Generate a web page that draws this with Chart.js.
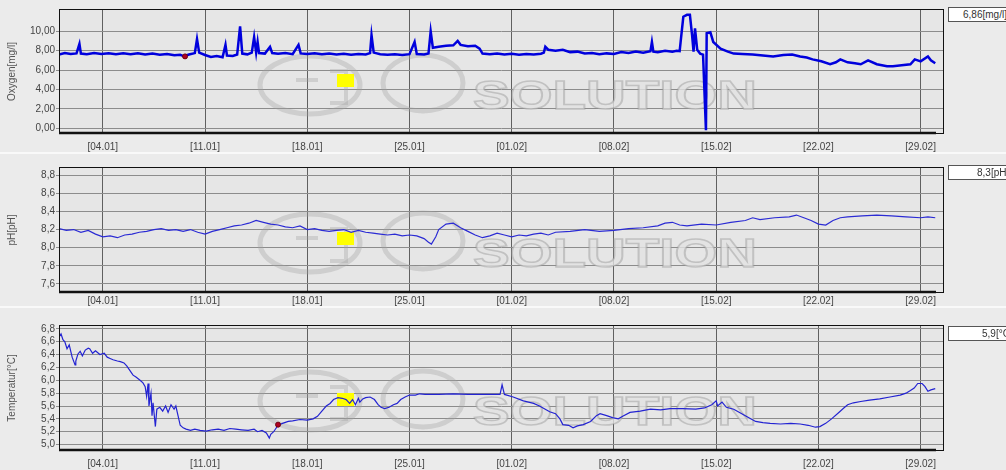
<!DOCTYPE html>
<html><head><meta charset="utf-8">
<script src="https://cdn.jsdelivr.net/npm/chart.js@4"></script>
<style>
body{margin:0;background:#ebebeb;width:1006px;height:470px;overflow:hidden;position:relative;font-family:"Liberation Sans",Arial,sans-serif;}
canvas{position:absolute;left:0}
.sep{position:absolute;left:0;width:1006px;height:2px;background:#f9f9f9}
.box{position:absolute;left:948px;width:80px;height:13px;background:#fff;border:1px solid #555;font-size:10px;color:#333;line-height:13px}
.box span{position:absolute;top:0;white-space:nowrap}
</style></head><body>
<canvas id="c1" width="1006" height="152" style="top:0"></canvas>
<div class="sep" style="top:152px"></div>
<canvas id="c2" width="1006" height="152" style="top:154px"></canvas>
<div class="sep" style="top:306px"></div>
<canvas id="c3" width="1006" height="162" style="top:308px"></canvas>
<div class="box" style="top:7px"><span id="v1" style="left:14px"></span></div>
<div class="box" style="top:165px"><span id="v2" style="left:28px"></span></div>
<div class="box" style="top:326px"><span id="v3" style="left:33px"></span></div>
<script>
// ---- data (days since 01.01) ----
const xTickDays = [3,10,17,24,31,38,45,52,59];
const xTickLabels = ['[04.01]','[11.01]','[18.01]','[25.01]','[01.02]','[08.02]','[15.02]','[22.02]','[29.02]'];

const oxyTicks = [0,2,4,6,8,10];
const phTicks = [7.6,7.8,8.0,8.2,8.4,8.6,8.8];
const tempTicks = [5.0,5.2,5.4,5.6,5.8,6.0,6.2,6.4,6.6,6.8];

const oxyDays = [0,0.4,0.8,1.2,1.4,1.5,1.9,2.4,2.9,3.4,3.9,4.4,4.9,5.4,5.9,6.4,6.9,7.4,7.9,8.3,8.56,8.9,9.3,9.45,9.6,10.0,10.4,10.8,11.2,11.4,11.5,11.9,12.2,12.4,12.55,12.9,13.2,13.36,13.5,13.6,13.7,14.1,14.45,14.6,15.0,15.5,16.0,16.4,16.55,17.0,17.5,18.0,18.5,19.0,19.5,20.0,20.5,21.0,21.3,21.4,21.55,22.0,22.5,23.0,23.5,24.0,24.35,24.5,25.0,25.3,25.45,25.6,26.0,26.5,27.0,27.3,27.5,28.0,28.5,28.8,29.0,29.5,30.0,30.5,31.0,31.5,32.0,32.5,33.0,33.2,33.3,33.5,34.0,34.5,35.0,35.5,36.0,36.5,37.0,37.5,38.0,38.5,39.0,39.5,40.0,40.5,40.6,40.7,41.0,41.5,42.0,42.3,42.5,42.6,42.75,43.0,43.2,43.35,43.45,43.55,43.7,43.9,44.1,44.3,44.35,44.6,44.8,45.3,45.8,46.2,46.8,47.5,48.2,48.9,49.6,50.2,50.75,51.2,51.6,52.2,52.8,53.2,53.5,54.0,54.5,54.9,55.4,56.0,56.7,57.1,57.7,58.3,58.6,59.0,59.5,59.7,60.0];
const oxyValues = [7.6,7.75,7.65,7.72,8.7,7.7,7.62,7.75,7.66,7.74,7.62,7.72,7.64,7.73,7.6,7.7,7.58,7.66,7.52,7.58,7.42,7.6,7.75,9.2,7.8,7.55,7.35,7.45,7.32,8.6,7.5,7.45,7.6,10.5,7.7,7.62,7.8,9.4,7.8,8.9,7.75,7.7,8.4,7.75,7.68,7.76,7.64,8.6,7.72,7.66,7.74,7.62,7.7,7.6,7.68,7.58,7.66,7.6,7.75,9.6,7.8,7.64,7.58,7.62,7.55,7.64,8.9,7.66,7.6,7.7,10.0,8.3,8.4,8.5,8.55,9.0,8.6,8.45,8.5,8.2,7.7,7.62,7.7,7.6,7.68,7.58,7.66,7.6,7.68,7.8,8.4,8.1,8.0,8.1,7.85,7.9,7.7,7.76,7.64,7.72,7.66,7.85,7.75,7.9,7.78,7.95,8.9,7.9,7.85,8.0,7.9,8.0,7.95,9.4,11.5,11.7,11.7,9.6,7.9,10.3,8.1,7.7,7.6,-0.2,9.8,9.9,8.9,8.2,7.9,7.7,7.65,7.6,7.5,7.4,7.55,7.6,7.4,7.3,7.1,6.9,6.6,6.8,7.1,6.8,6.7,6.6,7.0,6.6,6.4,6.4,6.5,6.6,7.1,6.9,7.4,7.0,6.7];

const phDays = [0,0.5,1,1.5,2,2.5,3,3.5,4,4.5,5,5.5,6,6.5,7,7.5,8,8.5,9,9.5,10,10.5,11,11.5,12,12.5,13,13.5,14,14.5,15,15.5,16,16.5,17,17.5,18,18.5,19,19.5,20,20.5,21,21.5,22,22.5,23,23.5,24,24.5,25,25.3,25.5,25.8,26,26.5,27,27.5,28,28.5,29,29.5,30,30.5,31,31.5,32,32.5,33,33.5,34,35,36,37,38,39,40,41,41.5,42,42.5,43,44,45,46,47,47.5,48,49,50,50.5,51,51.5,52,52.5,53,53.5,54,55,56,57,58,59,59.5,60];
const phValues = [8.21,8.19,8.2,8.17,8.19,8.15,8.12,8.13,8.11,8.14,8.15,8.17,8.18,8.2,8.21,8.19,8.2,8.18,8.2,8.17,8.15,8.18,8.2,8.22,8.24,8.25,8.27,8.3,8.28,8.26,8.25,8.23,8.22,8.24,8.2,8.21,8.19,8.18,8.19,8.2,8.17,8.19,8.17,8.16,8.15,8.14,8.15,8.13,8.14,8.13,8.1,8.06,8.04,8.12,8.2,8.26,8.27,8.22,8.18,8.14,8.11,8.13,8.16,8.14,8.12,8.14,8.13,8.15,8.16,8.14,8.17,8.18,8.2,8.18,8.19,8.21,8.22,8.24,8.27,8.28,8.25,8.24,8.26,8.25,8.28,8.3,8.33,8.31,8.33,8.34,8.36,8.33,8.3,8.26,8.25,8.3,8.33,8.34,8.35,8.36,8.35,8.34,8.33,8.34,8.33];

const tempDays = [0,0.14,0.27,0.4,0.55,0.7,0.9,1.1,1.15,1.3,1.45,1.6,1.8,2.0,2.1,2.3,2.5,2.8,3.1,3.3,3.5,3.7,4.0,4.2,4.45,4.65,4.86,5.07,5.27,5.55,5.75,5.9,6.0,6.1,6.16,6.3,6.37,6.44,6.6,6.7,6.9,7.1,7.3,7.47,7.67,7.88,8.0,8.15,8.3,8.5,8.7,9.0,9.3,9.66,10.07,10.5,10.9,11.3,11.7,12.1,12.5,12.95,13.36,13.6,13.9,14.2,14.4,14.5,14.7,15.0,15.3,15.7,16.0,16.5,17.0,17.4,17.7,18.0,18.3,18.56,18.8,19.1,19.4,19.66,19.9,20.1,20.3,20.5,20.6,20.8,21.0,21.3,21.6,21.85,22.05,22.3,22.6,22.9,23.15,23.4,23.7,24.0,24.4,24.7,25.07,26,27,28,29,30.2,30.34,30.5,31.1,31.8,32.5,32.9,33.6,34.0,34.3,34.5,34.9,35.2,35.5,35.9,36.4,36.8,37.05,37.5,37.9,38.3,38.6,39.1,39.8,40.5,41.2,41.85,42.7,43.6,44.2,44.7,45.0,45.1,45.4,45.7,46.2,46.6,47.3,47.7,48.2,48.7,49.4,50.1,50.75,51.3,51.8,52.1,52.5,52.9,53.4,53.7,54.0,54.4,54.9,55.5,56.2,56.9,57.6,58.0,58.3,58.56,58.8,59.1,59.3,59.5,59.7,60.0];
const tempValues = [6.67,6.72,6.63,6.6,6.49,6.55,6.36,6.24,6.3,6.41,6.45,6.38,6.47,6.5,6.49,6.42,6.46,6.4,6.42,6.36,6.34,6.32,6.3,6.29,6.27,6.22,6.15,6.08,6.05,6.0,5.96,5.9,5.75,5.95,5.6,5.8,5.45,5.65,5.28,5.55,5.58,5.52,5.6,5.5,5.62,5.55,5.6,5.45,5.3,5.26,5.24,5.22,5.24,5.22,5.21,5.23,5.24,5.22,5.25,5.24,5.23,5.22,5.24,5.2,5.22,5.18,5.1,5.16,5.2,5.3,5.33,5.36,5.37,5.39,5.38,5.4,5.44,5.52,5.6,5.64,5.7,5.73,5.72,5.7,5.64,5.7,5.62,5.72,5.66,5.71,5.73,5.74,5.7,5.62,5.58,5.56,5.58,5.62,5.64,5.7,5.74,5.77,5.77,5.79,5.78,5.78,5.79,5.78,5.78,5.78,5.93,5.78,5.74,5.68,5.64,5.6,5.51,5.48,5.4,5.31,5.3,5.26,5.29,5.31,5.36,5.45,5.48,5.45,5.42,5.4,5.44,5.5,5.52,5.55,5.54,5.56,5.56,5.55,5.57,5.62,5.68,5.6,5.66,5.58,5.55,5.5,5.41,5.36,5.34,5.33,5.32,5.33,5.32,5.3,5.27,5.28,5.33,5.4,5.5,5.56,5.62,5.65,5.67,5.69,5.71,5.74,5.77,5.8,5.84,5.88,5.95,5.95,5.9,5.83,5.85,5.87];

const yellowMarks = {oxy:[19.6, 4.9], ph:[19.6, 8.1], temp:[19.6, 5.7]};
const redMarks = {oxy:[8.63, 7.41], temp:[15.0, 5.31]};
const currentValues = ['6,86[mg/l]','8,3[pH]','5,9[°C]'];

document.getElementById('v1').textContent = currentValues[0];
document.getElementById('v2').textContent = currentValues[1];
document.getElementById('v3').textContent = currentValues[2];

// ---- styling helpers ----
const FONT = '"Liberation Sans", Arial, sans-serif';
const yellowImg = document.createElement('canvas');
yellowImg.width = 17; yellowImg.height = 13;
(function(){const c=yellowImg.getContext('2d');c.fillStyle='#ffff00';c.fillRect(0,0,17,13);})();

const panelPlugin = {
  id:'panel',
  beforeDraw(chart){
    const {ctx, chartArea:a} = chart;
    ctx.save(); ctx.fillStyle='#e6e6e6'; ctx.fillRect(a.left,a.top,a.right-a.left,a.bottom-a.top); ctx.restore();
  },
  beforeDatasetsDraw(chart){
    const {ctx, chartArea:a} = chart;
    const t = a.top;
    ctx.save();
    ctx.strokeStyle='rgba(160,160,160,0.35)'; ctx.lineWidth=5;
    ctx.beginPath(); ctx.ellipse(310, t+76, 50, 29, 0, 0, Math.PI*2); ctx.stroke();
    ctx.beginPath(); ctx.ellipse(423, t+74, 40, 28, 0, 0, Math.PI*2); ctx.stroke();
    ctx.lineWidth=4; ctx.strokeStyle='rgba(160,160,160,0.35)';
    ctx.beginPath(); ctx.moveTo(296,t+71); ctx.lineTo(318,t+71); ctx.stroke();
    ctx.beginPath(); ctx.moveTo(330,t+62); ctx.lineTo(346,t+62); ctx.lineTo(346,t+94); ctx.lineTo(330,t+94); ctx.stroke();
    ctx.font = 'bold 41px ' + FONT;
    const w = ctx.measureText('SOLUTION').width;
    ctx.translate(473, t+100); ctx.scale(284/w, 1);
    ctx.fillStyle='rgba(226,226,226,0.8)'; ctx.fillText('SOLUTION',0,0);
    ctx.lineWidth=1.5; ctx.strokeStyle='rgba(150,150,150,0.45)'; ctx.strokeText('SOLUTION',0,0);
    ctx.restore();
  },
  afterDraw(chart){
    const {ctx, chartArea:a} = chart;
    ctx.save();
    ctx.strokeStyle='#111'; ctx.lineWidth=1;
    ctx.strokeRect(a.left+0.5,a.top+0.5,a.right-a.left-1,a.bottom-a.top-1);
    ctx.lineWidth=2.5; ctx.beginPath(); ctx.moveTo(a.left,a.bottom-1); ctx.lineTo(a.right-8,a.bottom-1); ctx.stroke();
    ctx.restore();
  }
};

function makeChart(id, cfg){
  const ds = [{
    data: cfg.days.map((d,i)=>({x:d,y:cfg.vals[i]})),
    borderColor: cfg.color, borderWidth: cfg.lw, pointRadius:0, tension:0, order:2
  },{
    data:[{x:cfg.yellow[0], y:cfg.yellow[1]}], pointStyle: yellowImg, pointRadius:8, showLine:false, order:3
  }];
  if (cfg.red) ds.push({data:[{x:cfg.red[0], y:cfg.red[1]}], pointRadius:2.5, pointBackgroundColor:'#b00020', pointBorderColor:'#700010', showLine:false, order:1});
  return new Chart(document.getElementById(id), {
    type:'line',
    data:{datasets:ds},
    options:{
      responsive:false, animation:false, devicePixelRatio:1,
      layout:{padding:{left:0,right:62,top:cfg.pt,bottom:0}},
      plugins:{legend:{display:false}, tooltip:{enabled:false}},
      scales:{
        x:{type:'linear', min:0, max:60.6,
          afterBuildTicks: a => { a.ticks = xTickDays.map(v=>({value:v})); },
          afterFit: s => { s.height = cfg.xh; },
          grid:{color:'#606060', drawTicks:false}, border:{display:false},
          ticks:{padding:cfg.xpad, autoSkip:false, maxRotation:0, font:{family:FONT,size:10}, color:'#444',
            callback: v => { const i = xTickDays.indexOf(v); return i>=0 ? xTickLabels[i] : ''; }}
        },
        y:{min:cfg.min, max:cfg.max,
          afterBuildTicks: a => { a.ticks = cfg.ticks.map(v=>({value:v})); },
          afterFit: s => { s.width = 59; },
          grid:{color:'#8c8c8c', tickLength:3}, border:{display:false},
          ticks:{padding:1, autoSkip:false, font:{family:FONT,size:10}, color:'#444',
            callback: v => v.toFixed(cfg.dec).replace('.', ',')},
          title:{display:true, text:cfg.title, font:{family:FONT,size:10}, color:'#555', padding:{top:6,bottom:0}}
        }
      }
    },
    plugins:[panelPlugin]
  });
}

makeChart('c1', {days:oxyDays, vals:oxyValues, color:'#0000dd', lw:2.5, yellow:yellowMarks.oxy, red:redMarks.oxy,
  pt:7, xh:18, xpad:7, min:-0.6, max:12.3, ticks:oxyTicks, dec:2, title:'Oxygen[mg/l]'});
makeChart('c2', {days:phDays, vals:phValues, color:'#2b2bd4', lw:1.2, yellow:yellowMarks.ph, red:null,
  pt:13, xh:13, xpad:2, min:7.5, max:8.89, ticks:phTicks, dec:1, title:'pH[pH]'});
makeChart('c3', {days:tempDays, vals:tempValues, color:'#2323d2', lw:1.2, yellow:yellowMarks.temp, red:redMarks.temp,
  pt:17, xh:19, xpad:7, min:4.9, max:6.86, ticks:tempTicks, dec:1, title:'Temperatur[°C]'});
</script>
</body></html>
